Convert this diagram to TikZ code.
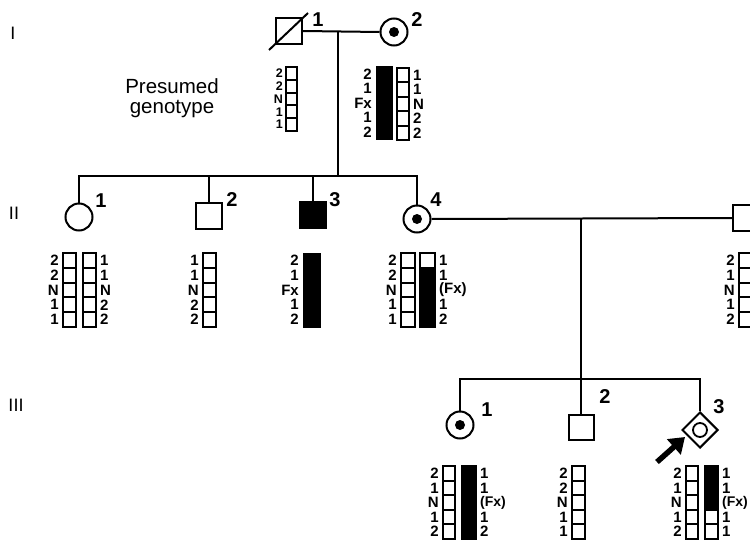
\documentclass[tikz,border=0pt]{standalone}
\usepackage{fontspec}
\setmainfont{Liberation Sans}
\usetikzlibrary{shapes.geometric,arrows.meta}
\tikzset{
 sq/.style={draw,line width=2pt,minimum size=26pt,inner sep=0pt},
 ci/.style={draw,circle,line width=2pt,minimum size=27pt,inner sep=0pt},
 pnum/.style={font=\fontsize{20}{20}\selectfont\bfseries,inner sep=0pt},
 hl/.style={font=\fontsize{15}{15}\selectfont\bfseries,inner sep=0pt},
 hlsmall/.style={font=\fontsize{12.5}{12.5}\selectfont\bfseries,inner sep=0pt},
 hapline/.style={line width=2pt},
 gen/.style={font=\fontsize{18}{18}\selectfont,inner sep=0pt},
 link/.style={line width=2pt},
}
\newcommand\fxs{\fontsize{14}{14}\selectfont(Fx)}
\newcommand\hapcol[5]{\foreach \f [count=\i from 0] in {#5} \draw[hapline,fill=\f] (#1,{#2+\i*#4}) rectangle ++(#3,#4);}
\newcommand\hlabL[5]{\foreach \t [count=\i from 0] in {#5} \node[hl,anchor=east] (#1-\i) at (#2,{#3+(\i+0.5)*#4}) {\t};}
\newcommand\hlabR[5]{\foreach \t [count=\i from 0] in {#5} \node[hl,anchor=west] (#1-\i) at (#2,{#3+(\i+0.5)*#4}) {\t};}
\begin{document}
\begin{tikzpicture}[x=1pt,y=-1pt]
\useasboundingbox[fill=white] (0,0) rectangle (750,541);
\clip (0,0) rectangle (750,541);
% generation labels
\node[gen] (gI) at (13,33) {I};
\node[gen] (gII) at (14,213) {II};
\node[gen] (gIII) at (16,405) {III};
% ---------- Generation I
\node[sq] (I1) at (289,31) {};
\draw[link] (269,50) -- (308,13);
\node[pnum] (I1n) at (318,20) {1};
\node[ci] (I2) at (394,32) {};
\fill (I2) circle (5pt);
\node[pnum] (I2n) at (417,20) {2};
\draw[link] (I1.east) -- (I2.west);
\coordinate (dI) at (338,32);
\coordinate (sII) at (338,176);
\draw[link] (dI) -- (sII);
\node[font=\fontsize{20.5}{20}\selectfont,align=center,inner sep=0pt] (pg) at (172,98) {Presumed\\genotype};
% haplotypes I
\hapcol{286}{67}{11}{12.8}{white,white,white,white,white}
\foreach \t [count=\i from 0] in {2,2,N,1,1} \node[hlsmall,anchor=east] (I1L-\i) at (283,{67+(\i+0.5)*12.8}) {\t};
\draw[hapline,fill=black] (377,67) rectangle (392,139);
\hapcol{397}{68}{12}{14.4}{white,white,white,white,white}
\hlabL{I2L}{372}{67}{14.4}{2,1,Fx,1,2}
\hlabR{I2R}{413}{68}{14.4}{1,1,N,2,2}
% ---------- Generation II
\node[ci] (II1) at (79,217) {};
\node[pnum] (II1n) at (101,201) {1};
\node[sq] (II2) at (209,216) {};
\node[pnum] (II2n) at (232,200) {2};
\node[sq,fill=black] (II3) at (313,215) {};
\node[pnum] (II3n) at (335,200) {3};
\node[ci] (II4) at (417,219) {};
\fill (II4) circle (5pt);
\node[pnum] (II4n) at (436,200) {4};
\node[sq] (II5) at (746,218) {};
\coordinate (sL) at (79,176);
\coordinate (sR) at (417,176);
\draw[link] (II1.north) -- (sL) -- (sR) -- (II4.north);
\draw[link] (II2.north) -- (II2.north |- sL);
\draw[link] (II3.north) -- (II3.north |- sL);
\draw[link] (II4.east) -- (II5.west);
\coordinate (dII) at (581,218);
\coordinate (sIII) at (581,379);
\draw[link] (dII) -- (sIII);
% haplotypes II
\hapcol{63}{253}{13}{14.8}{white,white,white,white,white}
\hapcol{83}{253}{13}{14.8}{white,white,white,white,white}
\hlabL{II1L}{59}{253}{14.8}{2,2,N,1,1}
\hlabR{II1R}{100}{253}{14.8}{1,1,N,2,2}
\hapcol{203}{253}{13}{14.8}{white,white,white,white,white}
\hlabL{II2L}{199}{253}{14.8}{1,1,N,2,2}
\draw[hapline,fill=black] (304,254) rectangle (320,327);
\hlabL{II3L}{299}{253}{14.8}{2,1,Fx,1,2}
\hapcol{401}{253}{14}{14.8}{white,white,white,white,white}
\draw[hapline,fill=black] (420,253) rectangle (435,327);
\draw[hapline,fill=white] (420,253) rectangle (435,267.8);
\hlabL{II4L}{397}{253}{14.8}{2,2,N,1,1}
\hlabR{II4R}{439}{253}{14.8}{1,1,(Fx),1,2}
\hapcol{739}{253}{13}{14.8}{white,white,white,white,white}
\hlabL{II5L}{735}{253}{14.8}{2,1,N,1,2}
% ---------- Generation III
\node[ci] (III1) at (460,425) {};
\fill (III1) circle (5pt);
\node[pnum] (III1n) at (487,410) {1};
\node[sq,minimum size=25pt] (III2) at (581,427) {};
\node[pnum] (III2n) at (605,397) {2};
\node[draw,diamond,aspect=1,line width=2pt,minimum size=36pt,inner sep=0pt] (III3) at (700,430) {};
\draw[line width=1.8pt] (III3) circle (7pt);
\node[pnum] (III3n) at (719,407) {3};
\coordinate (tL) at (460,379);
\coordinate (tR) at (700,379);
\draw[link] (III1.north) -- (tL) -- (tR) -- (III3.north);
\draw[link] (III2.north) -- (III2.north |- tL);
\coordinate (arrtail) at (657,462);
\coordinate (arrtip) at (685,437);
\draw[line width=5.5pt,-{Triangle[length=15pt,width=20pt]}] (arrtail) -- (arrtip);
% haplotypes III
\hapcol{443}{466}{12}{14.6}{white,white,white,white,white}
\draw[hapline,fill=black] (462,466) rectangle (476,539);
\hlabL{III1L}{439}{466}{14.6}{2,1,N,1,2}
\hlabR{III1R}{480}{466}{14.6}{1,1,\fxs,1,2}
\hapcol{572}{466}{13}{14.6}{white,white,white,white,white}
\hlabL{III2L}{568}{466}{14.6}{2,2,N,1,1}
\hapcol{686}{466}{12}{14.6}{white,white,white,white,white}
\draw[hapline,fill=black] (705,466) rectangle (718,509.8);
\hapcol{705}{509.8}{13}{14.6}{white,white}
\hlabL{III3L}{682}{466}{14.6}{2,1,N,1,2}
\hlabR{III3R}{722}{466}{14.6}{1,1,\fxs,1,1}
\end{tikzpicture}
\end{document}
